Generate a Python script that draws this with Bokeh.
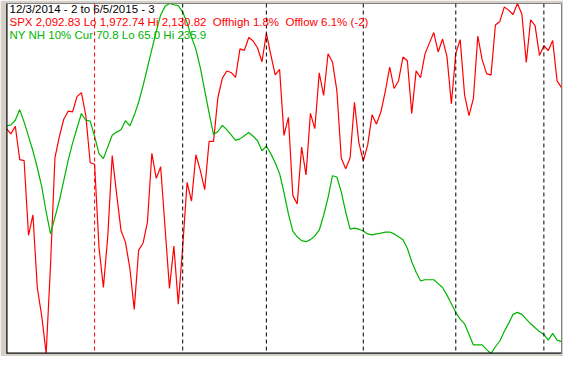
from bokeh.plotting import figure
from bokeh.models import Range1d, Span, Label, ColumnDataSource
from bokeh.embed import file_html
from bokeh.resources import INLINE

# S&P 500 daily closes, 12/3/2014 .. 6/5/2015 (trading days)
spx = [2074.33, 2071.92, 2075.37, 2060.31, 2059.82, 2026.14, 2035.33, 2002.33, 1989.63, 1972.74,
       2012.89, 2061.23, 2070.65, 2078.54, 2082.17, 2081.88, 2088.77, 2090.57, 2080.35, 2058.90,
       2058.20, 2020.58, 2002.61, 2025.90, 2062.14, 2044.81, 2028.26, 2023.03, 2011.27, 1992.67,
       2019.42, 2022.55, 2032.12, 2063.15, 2051.82, 2057.09, 2029.55, 2002.16, 2021.25, 1994.99,
       2020.85, 2050.03, 2041.51, 2062.52, 2055.47, 2046.74, 2068.59, 2068.53, 2088.48, 2096.99,
       2100.34, 2099.68, 2097.45, 2110.30, 2109.66, 2115.48, 2113.86, 2110.74, 2104.50,
       2117.39, 2107.78, 2098.53, 2101.04, 2071.26, 2079.43, 2044.16, 2040.24, 2065.95, 2053.40,
       2081.19, 2074.28, 2099.50, 2089.27, 2108.10, 2104.42, 2091.50, 2061.05, 2056.15, 2061.02,
       2086.24, 2067.89,
       2059.69, 2066.96, 2080.62, 2076.33, 2081.90, 2091.18, 2102.06, 2092.43, 2095.84, 2106.63,
       2104.99, 2081.18, 2100.40, 2097.29, 2107.96, 2112.93, 2117.69, 2108.92, 2114.76, 2106.85,
       2085.51,
       2108.29, 2114.49, 2089.46, 2080.15, 2088.00, 2116.10, 2105.33, 2099.12, 2098.48, 2121.10,
       2122.73, 2129.20, 2127.83, 2125.85, 2130.82, 2126.06, 2104.20, 2123.48, 2120.79, 2107.39,
       2111.73, 2109.60, 2114.07, 2095.84, 2092.83]

# NYSE new highs, 10% smoothed
nh = [176.1, 176.6, 178.9, 184.1, 178.0, 171.0, 164.0, 155.7, 146.5, 134.1,
      123.4, 131.6, 139.7, 149.4, 159.3, 167.7, 175.0, 182.2, 178.9, 178.5,
      171.0, 162.6, 160.2, 165.9, 171.6, 173.1, 174.3, 178.7, 176.1, 181.3,
      187.8, 195.7, 204.6, 213.5, 222.3, 230.3, 234.5, 235.9, 235.3, 234.9,
      231.7, 226.5, 219.5, 213.5, 204.6, 193.4, 182.4, 171.9, 173.4, 176.4,
      174.3, 171.7, 169.1, 169.8, 171.3, 172.9, 171.1, 168.9, 164.0, 166.3,
      162.6, 158.1, 152.8, 143.6, 133.2, 124.8, 122.0, 120.1, 119.6, 120.6,
      122.4, 125.2, 132.5, 141.1, 151.8, 151.2, 143.9, 134.1, 125.7, 126.2,
      125.7, 124.8, 123.4, 122.9, 123.4, 123.8, 124.3, 124.3, 123.4, 122.0,
      120.6, 116.4, 109.8, 104.7, 100.5, 101.0, 101.0, 101.0, 99.1, 97.2,
      93.5, 89.3, 85.1, 81.8, 79.5, 74.3, 69.2, 69.2, 69.2, 66.9,
      65.0, 68.3, 71.1, 75.7, 79.7, 84.1, 85.1, 84.1, 81.8, 79.5,
      77.6, 75.7, 74.3, 71.5, 74.8, 71.5, 70.8]

# index of first trading day of each month (Jan..Jun 2015)
month_starts = [20, 40, 59, 81, 102, 122]
month_colors = ["#FF0000", "#000000", "#000000", "#000000", "#000000", "#000000"]

spx_lo, spx_hi = min(spx), max(spx)
nh_lo, nh_hi = min(nh), max(nh)
days = list(range(len(spx)))

title_txt = "12/3/2014 - 2 to 6/5/2015 - 3"
spx_txt = ("SPX 2,092.83 Lo 1,972.74 Hi 2,130.82\u00a0\u00a0Offhigh 1.8%\u00a0\u00a0Offlow 6.1% (-2)")
nh_txt = "NY NH 10% Cur 70.8 Lo 65.0 Hi 235.9"

RED = "#FF0000"
GREEN = "#00B400"
BG = "#D4D0C8"

p = figure(width=563, height=356, output_backend="svg", toolbar_location=None,
           x_range=Range1d(0, len(spx) - 1), y_range=Range1d(spx_lo, spx_hi),
           x_axis_location=None, y_axis_location=None,
           min_border_left=6, min_border_right=2, min_border_top=3, min_border_bottom=3)
p.extra_y_ranges = {"nh": Range1d(nh_lo, nh_hi)}
p.grid.visible = False
p.background_fill_color = "white"
p.border_fill_color = BG
p.outline_line_color = "#808080"
p.outline_line_width = 1

for m, c in zip(month_starts, month_colors):
    p.add_layout(Span(location=m, dimension="height", line_color=c,
                      line_dash="4 3", line_width=1))

# dark sunken edge on left and bottom
p.add_layout(Span(location=0, dimension="height", line_color="black", line_width=2))
p.add_layout(Span(location=spx_lo, dimension="width", line_color="black", line_width=2))

src = ColumnDataSource(dict(x=days, spx=spx, nh=nh))
p.line("x", "spx", source=src, line_color=RED, line_width=1.2)
p.line("x", "nh", source=src, line_color=GREEN, line_width=1.2, y_range_name="nh")

for txt, col, off in [(title_txt, "black", 1), (spx_txt, RED, -12), (nh_txt, GREEN, -25)]:
    p.add_layout(Label(x=0, y=spx_hi, x_offset=3, y_offset=off, text=txt,
                       text_color=col, text_font="Liberation Sans",
                       text_font_size="11.5px", text_baseline="top", text_align="left"))

open("out.html", "w").write(file_html(p, INLINE))
